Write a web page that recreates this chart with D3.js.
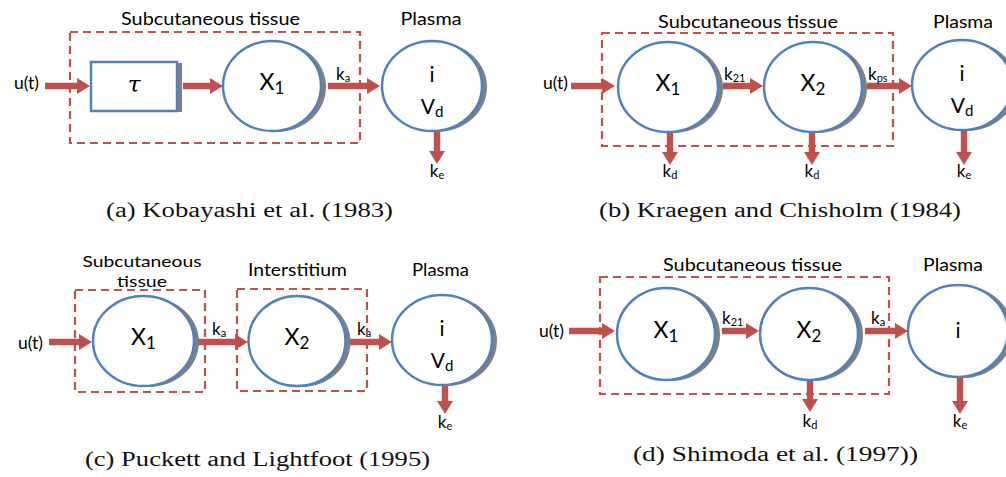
<!DOCTYPE html>
<html><head><meta charset="utf-8">
<script src="https://cdn.jsdelivr.net/npm/d3@7"></script>
<style>html,body{margin:0;padding:0;background:#fff;overflow:hidden}</style>
</head><body>
<svg id="chart" width="1006" height="477"></svg>
<script>
// ---------- content (labels / structure) ----------
const captions = ["(a) Kobayashi et al. (1983)", "(b) Kraegen and Chisholm (1984)", "(c) Puckett and Lightfoot (1995)", "(d) Shimoda et al. (1997))"];
const inputLabel = "u(t)";
const regionLabelsA = [["Subcutaneous tissue"], ["Plasma"]];
const regionLabelsB = [["Subcutaneous tissue"], ["Plasma"]];
const regionLabelsC = [["Subcutaneous", "tissue"], ["Interstitium"], ["Plasma"]];
const regionLabelsD = [["Subcutaneous tissue"], ["Plasma"]];
// compartments: [kind, main, subscript]
const nodesA = [["box", "τ", ""], ["comp", "X", "1"], ["plasma", "i", "d"]];
const nodesB = [["comp", "X", "1"], ["comp", "X", "2"], ["plasma", "i", "d"]];
const nodesC = [["comp", "X", "1"], ["comp", "X", "2"], ["plasma", "i", "d"]];
const nodesD = [["comp", "X", "1"], ["comp", "X", "2"], ["plasmaI", "i", ""]];
// transfer rate subscripts between consecutive compartments (null = unlabelled)
const transferA = [null, "a"];
const transferB = ["21", "ps"];
const transferC = ["a", "a"];
const transferD = ["21", "a"];
// elimination rate subscripts per compartment (null = none)
const elimA = [null, null, "e"];
const elimB = ["d", "d", "e"];
const elimC = [null, null, "e"];
const elimD = [null, "d", "e"];

// ---------- layout (geometry only) ----------
const layout = [
  { regions: [{x:210.5,y:25,w:179},{x:431,y:25,w:61}],
    dashed: [[70,32,360,143]],
    input: {tr:39, tb:89, x1:45, x2:90, y:86},
    nodes: [{x:91,y:62,w:86,h:49},{cx:272,cy:86,rx:49,ry:45},{cx:432,cy:86,rx:50,ry:45}],
    transfers: [{x1:183,x2:223,y:86},{x1:328,x2:380,y:86,lx:336,ly:80}],
    elims: [null,null,{x:437,y1:132,y2:164,ly:177}],
    caption: {x:249.5,y:217,w:287} },
  { regions: [{x:748,y:28,w:180},{x:963,y:28,w:60}],
    dashed: [[602,33,893,146]],
    input: {tr:568, tb:89, x1:571, x2:615, y:86},
    nodes: [{cx:668,cy:87,rx:50,ry:45},{cx:813,cy:87,rx:49,ry:45},{cx:962,cy:85,rx:50,ry:45}],
    transfers: [{x1:723,x2:763,y:86,lx:724,ly:80},{x1:867,x2:912,y:86,lx:868,ly:80}],
    elims: [{x:670,y1:133,y2:165,ly:177},{x:812,y1:133,y2:165,ly:177},{x:964,y1:129,y2:165,ly:177}],
    caption: {x:780,y:217,w:362} },
  { regions: [{x:142,y:266.5,w:119,x2:142,y2:286.5,w2:50,fs:16},{x:297.5,y:276,w:99},{x:440.5,y:276,w:57}],
    dashed: [[75,290,205,392],[237,289,367,391]],
    input: {tr:43, tb:349, x1:49, x2:92, y:342},
    nodes: [{cx:143.5,cy:341,rx:50.5,ry:45},{cx:297,cy:341,rx:48.5,ry:45},{cx:442,cy:340,rx:50,ry:45}],
    transfers: [{x1:196,x2:248,y:342,lx:212,ly:335},{x1:350,x2:392,y:342,lx:357,ly:335}],
    elims: [null,null,{x:445,y1:384,y2:414,ly:428}],
    caption: {x:257.5,y:466,w:345} },
  { regions: [{x:752.5,y:271,w:179},{x:953,y:271,w:60}],
    dashed: [[600,277,889,394]],
    input: {tr:564, tb:337, x1:569, x2:615, y:331},
    nodes: [{cx:666,cy:334,rx:49,ry:46},{cx:809,cy:334,rx:49,ry:46},{cx:958,cy:331,rx:50,ry:46}],
    transfers: [{x1:722,x2:759,y:331,lx:722,ly:324},{x1:865,x2:908,y:331,lx:871,ly:324}],
    elims: [null,{x:810,y1:380,y2:412,ly:427},{x:960,y1:377,y2:414,ly:427}],
    caption: {x:775.5,y:461,w:285} }
];

const panels = [
  {regions: regionLabelsA, nodes: nodesA, transfer: transferA, elim: elimA},
  {regions: regionLabelsB, nodes: nodesB, transfer: transferB, elim: elimB},
  {regions: regionLabelsC, nodes: nodesC, transfer: transferC, elim: elimC},
  {regions: regionLabelsD, nodes: nodesD, transfer: transferD, elim: elimD}
];

// ---------- drawing ----------
const RED = "#C0504D", BLUE = "#4F81BD", GRAY = "#808080";
const SANS = "Lato, 'Open Sans', 'Liberation Sans', sans-serif";
const SERIF = "'Liberation Serif', 'DejaVu Serif', serif";
const svg = d3.select("#chart");
const line = d3.line();

function arrowH(g, x1, x2, y) {
  const hw = 3.2, hh = 8, hl = 13;
  g.append("path").attr("fill", RED).attr("d", line([
    [x1, y - hw], [x2 - hl, y - hw], [x2 - hl, y - hh], [x2, y],
    [x2 - hl, y + hh], [x2 - hl, y + hw], [x1, y + hw]]) + "Z");
}
function arrowV(g, x, y1, y2) {
  const hw = 3.2, hh = 8, hl = 13;
  g.append("path").attr("fill", RED).attr("d", line([
    [x - hw, y1], [x - hw, y2 - hl], [x - hh, y2 - hl], [x, y2],
    [x + hh, y2 - hl], [x + hw, y2 - hl], [x + hw, y1]]) + "Z");
}
function subText(g, x, y, main, sub, size, subSize, dy, anchor) {
  const t = g.append("text").attr("x", x).attr("y", y)
    .attr("font-family", SANS).attr("font-size", size).attr("fill", "#000")
    .attr("text-anchor", anchor || "middle");
  t.append("tspan").text(main);
  if (sub) t.append("tspan").attr("dy", dy).attr("font-size", subSize).text(sub);
  return t;
}

panels.forEach((p, pi) => {
  const L = layout[pi];
  const g = svg.append("g");

  // region labels
  p.regions.forEach((lab, i) => {
    const r = L.regions[i];
    const t = g.append("text").attr("text-anchor", "middle")
      .attr("font-family", SANS).attr("font-size", r.fs || 17.5).attr("fill", "#000");
    t.append("tspan").attr("x", r.x).attr("y", r.y)
      .attr("textLength", r.w).attr("lengthAdjust", "spacingAndGlyphs").text(lab[0]);
    if (lab.length > 1) {
      t.append("tspan").attr("x", r.x2).attr("y", r.y2)
        .attr("textLength", r.w2).attr("lengthAdjust", "spacingAndGlyphs").text(lab[1]);
    }
  });

  // input
  g.append("text").attr("x", L.input.tr).attr("y", L.input.tb).attr("text-anchor", "end")
    .attr("font-family", SANS).attr("font-size", 17.5).attr("fill", "#000").text(inputLabel);
  arrowH(g, L.input.x1, L.input.x2, L.input.y);

  // transfer arrows
  p.transfer.forEach((lab, i) => {
    const t = L.transfers[i];
    arrowH(g, t.x1, t.x2, t.y);
  });

  // elimination arrows
  p.elim.forEach((lab, i) => {
    if (!lab) return;
    const e = L.elims[i];
    arrowV(g, e.x, e.y1, e.y2);
  });

  // compartments
  p.nodes.forEach((n, i) => {
    const c = L.nodes[i];
    if (n[0] === "box") {
      g.append("rect").attr("x", c.x + 5).attr("y", c.y + 1).attr("width", c.w).attr("height", c.h).attr("fill", GRAY);
      g.append("rect").attr("x", c.x).attr("y", c.y).attr("width", c.w).attr("height", c.h)
        .attr("fill", "#fff").attr("stroke", BLUE).attr("stroke-width", 2.5);
      g.append("text").attr("x", c.x + c.w / 2).attr("y", c.y + c.h / 2 + 5).attr("text-anchor", "middle")
        .attr("font-family", "'DejaVu Serif', serif").attr("font-style", "italic").attr("font-size", 23)
        .attr("fill", "#000").text(n[1]);
      return;
    }
    g.append("ellipse").attr("cx", c.cx + 5).attr("cy", c.cy + 1).attr("rx", c.rx).attr("ry", c.ry).attr("fill", GRAY);
    g.append("ellipse").attr("cx", c.cx).attr("cy", c.cy).attr("rx", c.rx).attr("ry", c.ry)
      .attr("fill", "#fff").attr("stroke", BLUE).attr("stroke-width", 2.5);
    if (n[0] === "comp") {
      subText(g, c.cx, c.cy + 4, n[1], n[2], 23, 17, 4);
    } else if (n[0] === "plasma") {
      subText(g, c.cx, c.cy - 4, n[1], "", 21, 0, 0);
      subText(g, c.cx, c.cy + 28, "V", n[2], 21, 15, 3);
    } else {
      subText(g, c.cx, c.cy + 7, n[1], "", 21, 0, 0);
    }
  });

  // transfer labels
  p.transfer.forEach((lab, i) => {
    if (!lab) return;
    const t = L.transfers[i];
    subText(g, t.lx, t.ly, "k", lab, 17, 11, 2, "start");
  });
  // elimination labels
  p.elim.forEach((lab, i) => {
    if (!lab) return;
    const e = L.elims[i];
    subText(g, e.x, e.ly, "k", lab, 17, 11, 2);
  });

  // dashed boundaries
  L.dashed.forEach(d => {
    g.append("rect").attr("x", d[0]).attr("y", d[1]).attr("width", d[2] - d[0]).attr("height", d[3] - d[1])
      .attr("fill", "none").attr("stroke", RED).attr("stroke-width", 2.2).attr("stroke-dasharray", "8,5");
  });

  // caption
  g.append("text").attr("x", L.caption.x).attr("y", L.caption.y).attr("text-anchor", "middle")
    .attr("font-family", SERIF).attr("font-size", 20).attr("fill", "#111")
    .attr("textLength", L.caption.w).attr("lengthAdjust", "spacingAndGlyphs").text(captions[pi]);
});
</script>
</body></html>
